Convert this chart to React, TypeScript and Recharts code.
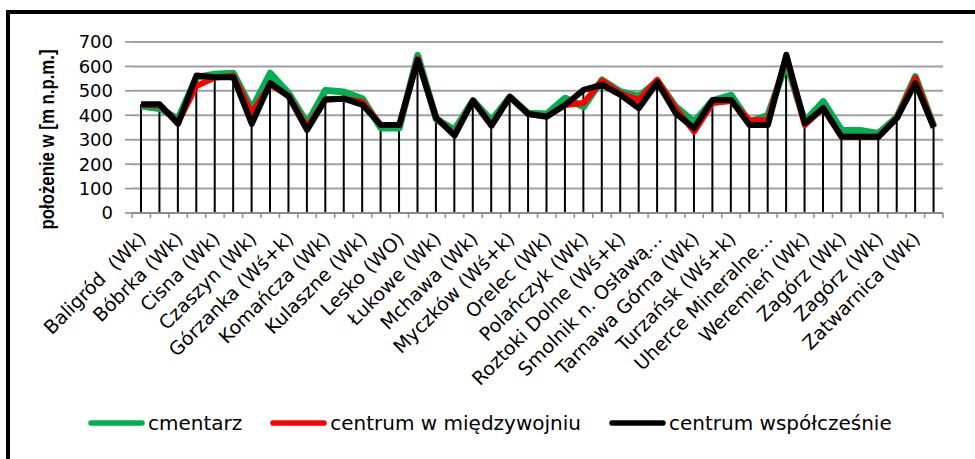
import { ComposedChart, Line, Bar, XAxis, YAxis, CartesianGrid } from "recharts";

const categories = [
  "Baligród  (Wk)", "", "Bóbrka (Wk)", "", "Cisna (Wk)", "", "Czaszyn (Wk)", "",
  "Górzanka (Wś+k)", "", "Komańcza (Wk)", "", "Kulaszne (Wk)", "", "Lesko (WO)", "",
  "Łukowe (Wk)", "", "Mchawa (Wk)", "", "Myczków (Wś+k)", "", "Orelec (Wk)", "",
  "Polańczyk (Wk)", "", "Roztoki Dolne (Wś+k)", "", "Smolnik n. Osławą…", "",
  "Tarnawa Górna (Wk)", "", "Turzańsk (Wś+k)", "", "Uherce Mineralne…", "",
  "Weremień (Wk)", "", "Zagórz (Wk)", "", "Zagórz (Wk)", "", "Zatwarnica (Wk)", "",
];

// m n.p.m.
const cmentarz = [
  438, 428, 385, 555, 568, 572, 425, 572, 490, 367, 502, 495, 468, 348, 348, 645,
  385, 340, 460, 378, 475, 408, 405, 470, 435, 545, 497, 477, 540, 435, 372, 460,
  482, 372, 400, 615, 374, 456, 338, 338, 326, 392, 558, 355,
];
const centrumMiedzywojnie = [
  443, 440, 372, 520, 555, 562, 410, 525, 480, 352, 465, 468, 455, 360, 360, 632,
  388, 322, 460, 360, 475, 405, 396, 442, 450, 542, 490, 462, 545, 428, 333, 450,
  458, 380, 380, 640, 360, 430, 312, 312, 312, 390, 552, 352,
];
const centrumWspolczesnie = [
  445, 445, 365, 563, 556, 556, 365, 532, 477, 340, 465, 468, 443, 360, 360, 627,
  390, 317, 460, 357, 475, 405, 394, 442, 504, 525, 484, 429, 535, 408, 347, 463,
  463, 360, 360, 648, 367, 429, 312, 312, 312, 388, 532, 350,
];

const yTicks = [0, 100, 200, 300, 400, 500, 600, 700];

const seriesNames = ["cmentarz", "centrum w międzywojniu", "centrum współcześnie"];
const seriesColors = ["#00B050", "#FF0000", "#000000"];

const W = 975;
const H = 459;
const MARGIN = { top: 42, right: 32, bottom: 0, left: 0 };
const Y_WIDTH = 132;
const bandHalf = (W - MARGIN.left - MARGIN.right - Y_WIDTH) / categories.length / 2;

const data = categories.map((name, i) => ({
  idx: i,
  name,
  cmentarz: cmentarz[i],
  miedzywojnie: centrumMiedzywojnie[i],
  wspolczesnie: centrumWspolczesnie[i],
  drop: Math.max(cmentarz[i], centrumMiedzywojnie[i], centrumWspolczesnie[i]),
}));

const FONT = "'DejaVu Sans', sans-serif";

function CategoryTick(props: any) {
  const { x, y, payload, index } = props;
  const label = categories[Number(payload.value)];
  const tx = x + 6;
  const ty = y + 27;
  return (
    <g>
      <line x1={x - bandHalf} x2={x - bandHalf} y1={y} y2={y + 5} stroke="#8c8c8c" strokeWidth={1.5} />
      {index === categories.length - 1 && (
        <line x1={x + bandHalf} x2={x + bandHalf} y1={y} y2={y + 5} stroke="#8c8c8c" strokeWidth={1.5} />
      )}
      {label && (
        <text
          x={tx}
          y={ty}
          transform={`rotate(-45, ${tx}, ${ty})`}
          textAnchor="end"
          fontSize={19}
          fontFamily={FONT}
          fill="#000"
          style={{ whiteSpace: "pre" }}
        >
          {label}
        </text>
      )}
    </g>
  );
}

function YTitle(props: any) {
  const vb = props.viewBox || { x: 0, y: 0, width: 0, height: 0 };
  const cx = 46;
  const cy = vb.y + vb.height / 2 + 12;
  return (
    <text
      x={cx}
      y={cy}
      transform={`rotate(-90, ${cx}, ${cy})`}
      textAnchor="middle"
      dominantBaseline="central"
      fontSize={21}
      fontWeight="bold"
      fontFamily="'Liberation Sans', Arial, sans-serif"
      fill="#000"
      textLength={180}
      lengthAdjust="spacingAndGlyphs"
    >
      położenie w [m n.p.m.]
    </text>
  );
}

function LegendBox() {
  return (
    <div
      style={{
        position: "absolute",
        left: 88,
        top: 410,
        display: "flex",
        alignItems: "center",
        fontFamily: FONT,
        fontSize: 20,
        color: "#000",
        lineHeight: "26px",
      }}
    >
      {seriesNames.map((n, i) => (
        <div key={n} style={{ display: "flex", alignItems: "center", marginLeft: i === 0 ? 0 : 28 }}>
          <svg width={57} height={10}>
            <line x1={3} x2={54} y1={5} y2={5} stroke={seriesColors[i]} strokeWidth={5.5} strokeLinecap="round" />
          </svg>
          <span style={{ marginLeft: 3 }}>{n}</span>
        </div>
      ))}
    </div>
  );
}

export default function App() {
  return (
    <div style={{ position: "absolute", left: 0, top: 0, width: W, height: H, overflow: "hidden", background: "#fff" }}>
      <div
        style={{
          position: "absolute",
          left: 6,
          top: 10,
          width: W,
          height: H,
          borderLeft: "4px solid #000",
          borderTop: "4px solid #000",
        }}
      />
      <div style={{ position: "absolute", left: 0, top: 0 }}>
        <ComposedChart width={W} height={H} data={data} margin={MARGIN}>
          <CartesianGrid vertical={false} stroke="#a0a0a0" strokeWidth={2} />
          <XAxis
            dataKey="idx"
            type="category"
            interval={0}
            height={246}
            tickSize={0}
            tickMargin={0}
            tickLine={false}
            axisLine={{ stroke: "#8c8c8c", strokeWidth: 2 }}
            tick={<CategoryTick />}
          />
          <YAxis
            domain={[0, 700]}
            ticks={yTicks}
            interval={0}
            width={Y_WIDTH}
            axisLine={false}
            tickSize={7}
            tickMargin={12}
            tickLine={{ stroke: "#8c8c8c", strokeWidth: 1.5 }}
            tick={{ fontSize: 18, fill: "#000", fontFamily: FONT }}
            label={<YTitle />}
          />
          <Bar dataKey="drop" barSize={2} fill="#000" isAnimationActive={false} />
          <Line
            type="linear"
            dataKey="cmentarz"
            stroke={seriesColors[0]}
            strokeWidth={7}
            strokeLinejoin="round"
            dot={false}
            isAnimationActive={false}
          />
          <Line
            type="linear"
            dataKey="miedzywojnie"
            stroke={seriesColors[1]}
            strokeWidth={6}
            strokeLinejoin="round"
            dot={false}
            isAnimationActive={false}
          />
          <Line
            type="linear"
            dataKey="wspolczesnie"
            stroke={seriesColors[2]}
            strokeWidth={6}
            strokeLinejoin="round"
            dot={false}
            isAnimationActive={false}
          />
        </ComposedChart>
      </div>
      <LegendBox />
    </div>
  );
}
